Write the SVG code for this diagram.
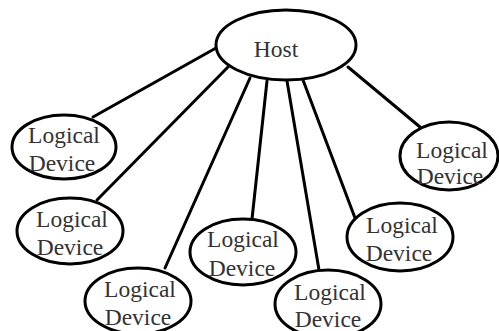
<svg xmlns="http://www.w3.org/2000/svg" width="499" height="331" viewBox="0 0 499 331">
<style>
.n{fill:#fff;stroke:#000;stroke-width:3}
.c line{stroke:#000;stroke-width:3;stroke-linecap:round}
text{font-family:"Liberation Serif","Times New Roman",serif;font-size:23.5px;fill:#333;text-anchor:middle}
</style>
<rect width="499" height="331" fill="#fff"/>
<g id="connectors" class="c">
<line x1="216" y1="48" x2="93" y2="117"/>
<line x1="228" y1="67" x2="97" y2="200"/>
<line x1="250" y1="78" x2="165" y2="268"/>
<line x1="267" y1="81" x2="252" y2="219"/>
<line x1="287" y1="81" x2="319" y2="270"/>
<line x1="303" y1="80" x2="355" y2="218"/>
<line x1="348" y1="67" x2="420" y2="127"/>
</g>
<g id="host">
<ellipse class="n" cx="286" cy="45" rx="70" ry="35"/>
<text x="276" y="57">Host</text>
</g>
<g id="dev1">
<ellipse class="n" cx="64" cy="147" rx="52" ry="32"/>
<text x="64" y="143">Logical</text>
<text x="62" y="171">Device</text>
</g>
<g id="dev2">
<ellipse class="n" cx="70" cy="231" rx="53" ry="33"/>
<text x="72" y="227">Logical</text>
<text x="70" y="255">Device</text>
</g>
<g id="dev3">
<ellipse class="n" cx="138" cy="301" rx="53" ry="33"/>
<text x="140" y="297">Logical</text>
<text x="138" y="325">Device</text>
</g>
<g id="dev4">
<ellipse class="n" cx="243" cy="252" rx="53" ry="33"/>
<text x="243" y="247">Logical</text>
<text x="242" y="276">Device</text>
</g>
<g id="dev5">
<ellipse class="n" cx="328" cy="304" rx="53" ry="34"/>
<text x="330" y="300">Logical</text>
<text x="328" y="327">Device</text>
</g>
<g id="dev6">
<ellipse class="n" cx="400" cy="237" rx="53" ry="34"/>
<text x="402" y="233">Logical</text>
<text x="399" y="261">Device</text>
</g>
<g id="dev7">
<ellipse class="n" cx="449" cy="156" rx="49" ry="34"/>
<text x="452" y="158">Logical</text>
<text x="450" y="184">Device</text>
</g>
</svg>
